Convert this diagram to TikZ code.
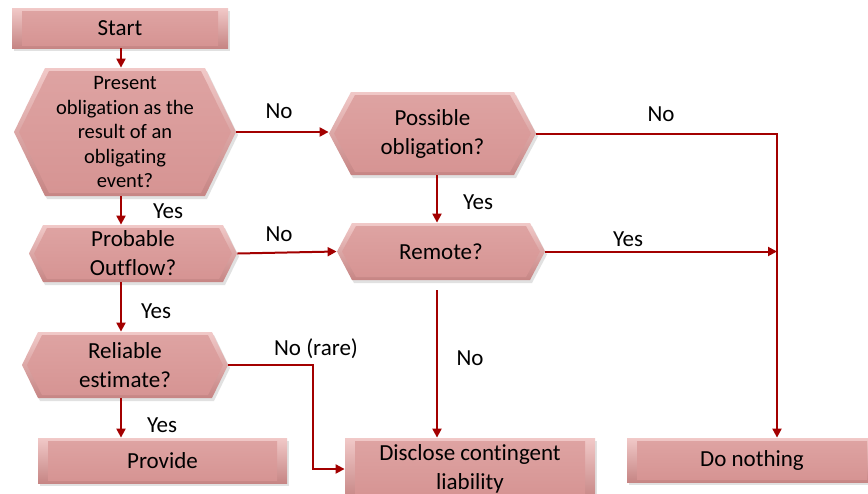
\documentclass[tikz,border=0pt]{standalone}
\usepackage{fontspec}
\setmainfont[Ligatures=NoCommon]{Carlito}
\usetikzlibrary{arrows.meta}
\definecolor{arrred}{HTML}{A30000}
\definecolor{bevtop}{HTML}{F1C9C8}
\definecolor{bevbot}{HTML}{C68584}
\definecolor{facetop}{HTML}{DEA3A2}
\definecolor{facebot}{HTML}{D69493}
\definecolor{shadowc}{HTML}{C4C4C4}
\tikzset{
 x=0.5pt, y=-0.5pt,
 arr/.style={draw=arrred, line width=1pt, -{Triangle[length=4.5pt,width=4.5pt]}},
 txt/.style={inner sep=0pt, align=center, font=\fontsize{11.5}{14.5}\selectfont, text=black},
 smalltxt/.style={txt, font=\fontsize{10.25}{12.25}\selectfont},
 lbl/.style={inner sep=0pt, font=\fontsize{11.5}{14}\selectfont, text=black},
 outerbev/.style={top color=bevtop, bottom color=bevbot},
 facebev/.style={top color=facetop, bottom color=facebot},
 shadowfill/.style={fill=shadowc, opacity=.5},
}
% style, name, cx, cy, w, h, d, text
\newcommand\hexbox[8]{%
  \fill[shadowfill] ({#3-#5/2+2},{#4+3}) -- ({#3-#5/2+#7+2},{#4-#6/2+3}) -- ({#3+#5/2-#7+2},{#4-#6/2+3}) -- ({#3+#5/2+2},{#4+3}) -- ({#3+#5/2-#7+2},{#4+#6/2+3}) -- ({#3-#5/2+#7+2},{#4+#6/2+3}) -- cycle;
  \shade[outerbev] ({#3-#5/2},#4) -- ({#3-#5/2+#7},{#4-#6/2}) -- ({#3+#5/2-#7},{#4-#6/2}) -- ({#3+#5/2},#4) -- ({#3+#5/2-#7},{#4+#6/2}) -- ({#3-#5/2+#7},{#4+#6/2}) -- cycle;
  \shade[facebev] ({#3-#5/2+5},#4) -- ({#3-#5/2+#7+4},{#4-#6/2+3}) -- ({#3+#5/2-#7-4},{#4-#6/2+3}) -- ({#3+#5/2-5},#4) -- ({#3+#5/2-#7-4},{#4+#6/2-3}) -- ({#3-#5/2+#7+4},{#4+#6/2-3}) -- cycle;
  \node[#1, minimum width={#5*0.5pt}, minimum height={#6*0.5pt}] (#2) at (#3,#4) {#8};
}
% name, cx, cy, w, h, text
\newcommand\rectbox[6]{%
  \fill[shadowfill] ({#2-#4/2+2},{#3-#5/2+3}) rectangle ({#2+#4/2+2},{#3+#5/2+3});
  \shade[outerbev] ({#2-#4/2},{#3-#5/2}) rectangle ({#2+#4/2},{#3+#5/2});
  \shade[facebev] ({#2-#4/2+10},{#3-#5/2+3}) rectangle ({#2+#4/2-10},{#3+#5/2-3});
  \node[txt, minimum width={#4*0.5pt}, minimum height={#5*0.5pt}] (#1) at (#2,#3) {#6};
}
\begin{document}
\begin{tikzpicture}
\useasboundingbox (0,0) rectangle (868,493);
\clip (0,0) rectangle (868,493);
\fill[white] (0,0) rectangle (868,493);

\rectbox{start}{120}{28}{216}{40}{Start}
\hexbox{smalltxt}{q1}{125}{132}{222}{128}{31}{Present\\obligation as the\\result of an\\obligating\\event?}
\hexbox{txt}{q2}{133}{253.5}{208}{57}{14}{Probable\\Outflow?}
\hexbox{txt}{q3}{125}{365}{206}{66}{16}{Reliable\\estimate?}
\hexbox{txt}{q4}{432.5}{133.5}{207}{83}{22}{Possible\\obligation?}
\hexbox{txt}{q5}{441}{251.5}{208}{57}{15}{Remote?}
\rectbox{prov}{162.5}{460.5}{249}{45}{Provide}
\rectbox{disc}{470}{469}{250}{62}{Disclose contingent\\liability}
\rectbox{dn}{752}{460}{250}{44}{Do nothing}

\coordinate (lx) at (121,0);
\coordinate (mx) at (437,0);
\coordinate (rx) at (777,0);
\coordinate (bx) at (313,0);

\draw[arr] (lx |- start.south) -- (lx |- q1.north);
\draw[arr] (lx |- q1.south) -- (lx |- q2.north);
\draw[arr] (lx |- q2.south) -- (lx |- q3.north);
\draw[arr] (lx |- q3.south) -- (lx |- prov.north);
\draw[arr] (q1.east) -- (q1.east -| q4.west);
\draw[arr] (q2.east) -- (q5.west);
\draw[arr] (mx |- q4.south) -- (mx |- q5.north);
\draw[arr] ([yshift=-5pt]mx |- q5.south) -- (mx |- disc.north);
\draw[arr] (q4.east) -- (q4.east -| rx) -- (rx |- dn.north);
\draw[arr] (q5.east) -- (q5.east -| rx);
\draw[arr] (q3.east) -- (q3.east -| bx) |- (disc.west);

\node[lbl] (l1) at (279,111) {No};
\node[lbl] (l2) at (168,211) {Yes};
\node[lbl] (l3) at (279,234) {No};
\node[lbl] (l4) at (156,311) {Yes};
\node[lbl] (l5) at (316,349) {No (rare)};
\node[lbl] (l6) at (162,425) {Yes};
\node[lbl] (l7) at (478,202) {Yes};
\node[lbl] (l8) at (661,114) {No};
\node[lbl] (l9) at (628,239) {Yes};
\node[lbl] (l10) at (470,358) {No};
\end{tikzpicture}
\end{document}
